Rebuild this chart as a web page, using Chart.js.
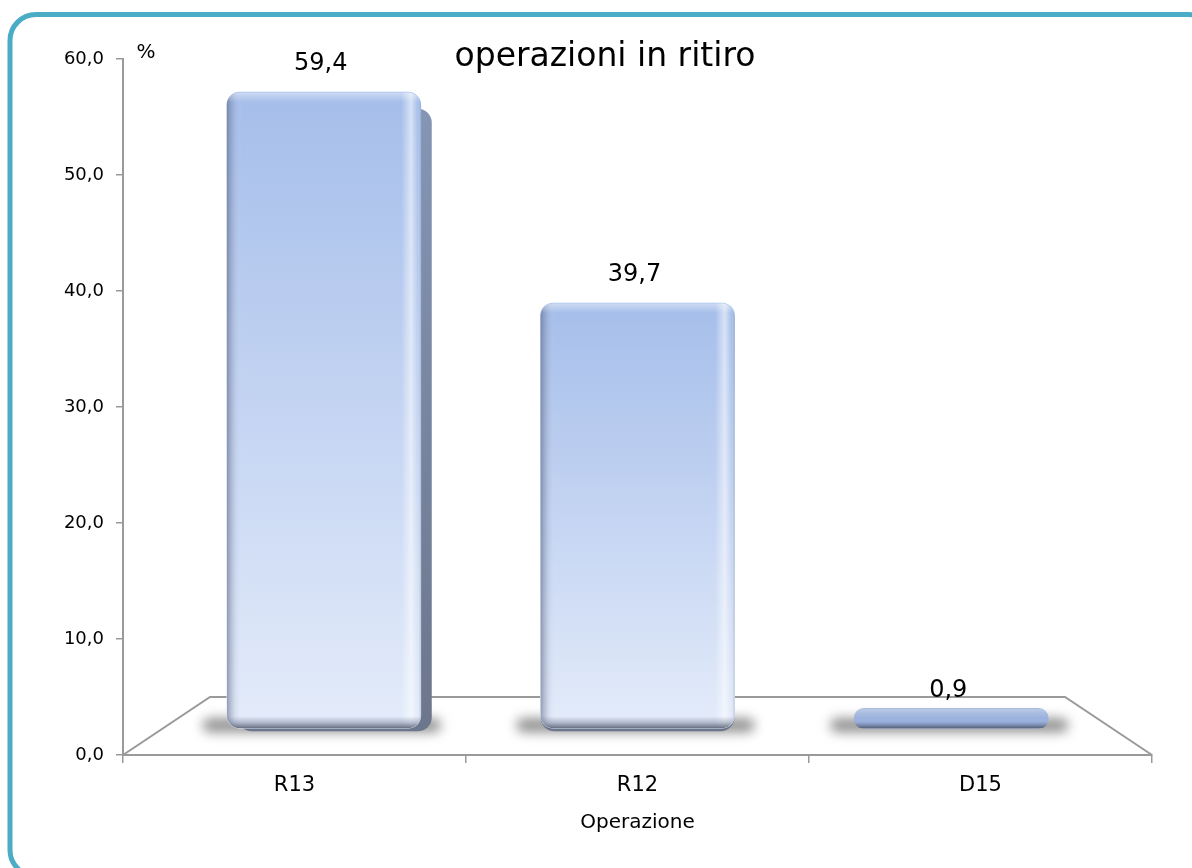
<!DOCTYPE html>
<html>
<head>
<meta charset="utf-8">
<title>operazioni in ritiro</title>
<script src="https://cdn.jsdelivr.net/npm/chart.js@4.4.1/dist/chart.umd.min.js"></script>
<style>
  html, body { margin: 0; padding: 0; background: #fff; }
  #wrap { width: 1192px; height: 868px; }
</style>
</head>
<body>
<div id="wrap"><canvas id="chart" width="1192" height="868"></canvas></div>
<script>
/* data */
const categories = ['R13', 'R12', 'D15'];
const values = [59.4, 39.7, 0.9];
const yTicks = [0, 10, 20, 30, 40, 50, 60];
const chartTitle = 'operazioni in ritiro';
const xTitle = 'Operazione';
const yUnit = '%';

const FONT = "'DejaVu Sans', sans-serif";
const AXIS_GREY = '#9a9a9a';
const fmt = v => v.toFixed(1).replace('.', ',');

// depth of the fake 3D floor (px)
const DEPTH_X = 87;
const DEPTH_Y = 58;

function barBox(el) {
  const w = el.width;
  return { left: el.x - w / 2, right: el.x + w / 2, top: el.y, bottom: el.base, w: w };
}

/* ------------------------------
   outer frame + white background
------------------------------ */
const framePlugin = {
  id: 'frame',
  beforeDraw(chart) {
    const ctx = chart.ctx;
    ctx.save();
    ctx.fillStyle = '#fff';
    ctx.fillRect(0, 0, chart.width, chart.height);
    ctx.strokeStyle = '#4bacc6';
    ctx.lineWidth = 5;
    ctx.beginPath();
    ctx.roundRect(10, 14.5, chart.width + 12, 861.5, 26);
    ctx.stroke();
    ctx.restore();
  }
};

/* ------------------------------
   floor, shadows, side faces
------------------------------ */
const floorPlugin = {
  id: 'floor',
  beforeDatasetsDraw(chart) {
    const ctx = chart.ctx;
    const a = chart.chartArea;
    ctx.save();
    ctx.strokeStyle = AXIS_GREY;
    ctx.lineWidth = 2;
    ctx.beginPath();
    ctx.moveTo(a.left, a.bottom);
    ctx.lineTo(a.left + DEPTH_X, a.bottom - DEPTH_Y);
    ctx.lineTo(a.right - DEPTH_X, a.bottom - DEPTH_Y);
    ctx.lineTo(a.right, a.bottom);
    ctx.stroke();

    const cx = (a.left + a.right) / 2;
    chart.getDatasetMeta(0).data.forEach(el => {
      const b = barBox(el);
      // soft shadow on the floor
      ctx.save();
      ctx.filter = 'blur(6px)';
      ctx.fillStyle = 'rgba(70,70,70,0.6)';
      ctx.beginPath();
      ctx.roundRect(b.left - 24, b.bottom - 10, b.w + 44, 14, 7);
      ctx.fill();
      ctx.restore();

      // side / bottom face (only for tall bars)
      if (b.bottom - b.top > 40) {
        const dx = -(el.x - cx) * 0.035;
        const g = ctx.createLinearGradient(0, b.top, 0, b.bottom);
        g.addColorStop(0, '#8596b6');
        g.addColorStop(1, '#6c768c');
        ctx.fillStyle = g;
        ctx.beginPath();
        ctx.roundRect(b.left + dx, b.top + Math.abs(dx) * 1.5, b.w, b.bottom - b.top - Math.abs(dx) * 1.5 + 3, 14);
        ctx.fill();
      }
    });
    ctx.restore();
  },

  afterDatasetsDraw(chart) {
    const ctx = chart.ctx;
    const yBar = chart.scales.yBar;
    ctx.save();
    chart.getDatasetMeta(0).data.forEach((el, i) => {
      const b = barBox(el);
      const tall = b.bottom - b.top > 40;
      // bevel highlights on the front face
      ctx.save();
      ctx.beginPath();
      ctx.roundRect(b.left, b.top, b.w, b.bottom - b.top, tall ? 13 : 8);
      ctx.clip();
      if (tall) {
        const h = ctx.createLinearGradient(b.left, 0, b.right, 0);
        h.addColorStop(0, 'rgba(80,90,115,0.55)');
        h.addColorStop(0.04, 'rgba(120,130,160,0.15)');
        h.addColorStop(0.08, 'rgba(255,255,255,0)');
        h.addColorStop(0.9, 'rgba(255,255,255,0)');
        h.addColorStop(0.95, 'rgba(255,255,255,0.55)');
        h.addColorStop(0.985, 'rgba(255,255,255,0)');
        h.addColorStop(1, 'rgba(110,120,145,0.4)');
        ctx.fillStyle = h;
        ctx.fillRect(b.left, b.top, b.w, b.bottom - b.top);
      }
      const rim = tall ? 12 : 6;
      const v = ctx.createLinearGradient(0, b.bottom - rim, 0, b.bottom);
      v.addColorStop(0, 'rgba(90,100,125,0)');
      v.addColorStop(0.5, 'rgba(90,100,125,0.35)');
      v.addColorStop(1, 'rgba(80,88,105,0.85)');
      ctx.fillStyle = v;
      ctx.fillRect(b.left, b.bottom - rim, b.w, rim);
      const t = ctx.createLinearGradient(0, b.top, 0, b.top + 10);
      t.addColorStop(0, 'rgba(255,255,255,0.45)');
      t.addColorStop(1, 'rgba(255,255,255,0)');
      ctx.fillStyle = t;
      ctx.fillRect(b.left, b.top, b.w, 10);
      ctx.restore();

      // value label
      ctx.fillStyle = '#000';
      ctx.font = '24px ' + FONT;
      ctx.textAlign = 'center';
      ctx.textBaseline = 'middle';
      ctx.fillText(fmt(values[i]), el.x - 3, yBar.getPixelForValue(values[i]) - 28);
    });
    ctx.restore();
  },

  afterDraw(chart) {
    const ctx = chart.ctx;
    const a = chart.chartArea;
    ctx.save();
    ctx.fillStyle = '#000';
    ctx.textBaseline = 'middle';
    ctx.textAlign = 'center';
    ctx.font = '33px ' + FONT;
    ctx.fillText(chartTitle, chart.width / 2 + 9, a.top - 2);
    ctx.font = '20px ' + FONT;
    ctx.fillText(yUnit, a.left + 23, a.top - 6);
    ctx.restore();
  }
};

/* ------------------------------
   chart
------------------------------ */
const barColor = (c) => {
  const chart = c.chart;
  const yBar = chart.scales.yBar;
  if (!yBar || !chart.chartArea) return '#b7cbf0';
  const v = values[c.dataIndex];
  const top = Math.min(yBar.getPixelForValue(v), yBar.getPixelForValue(0) - 20);
  const bottom = yBar.getPixelForValue(0);
  const g = chart.ctx.createLinearGradient(0, top, 0, bottom);
  if (bottom - top < 40) {
    g.addColorStop(0, '#8aa3d3');
    g.addColorStop(0.6, '#9db4e0');
    g.addColorStop(1, '#7f93bb');
  } else {
    g.addColorStop(0, '#a5beea');
    g.addColorStop(0.5, '#c4d4f2');
    g.addColorStop(1, '#e4ecfa');
  }
  return g;
};

new Chart(document.getElementById('chart'), {
  type: 'bar',
  data: {
    labels: categories,
    datasets: [{
      label: chartTitle,
      data: values.map((v, i) => ({ x: i, y: v })),
      xAxisID: 'xBar',
      yAxisID: 'yBar',
      backgroundColor: barColor,
      borderWidth: 0,
      borderRadius: 13,
      borderSkipped: false,
      barThickness: 194,
      minBarLength: 20
    }]
  },
  options: {
    responsive: false,
    animation: false,
    layout: { padding: { left: 0, right: 40, top: 59, bottom: 0 } },
    plugins: {
      legend: { display: false },
      tooltip: { enabled: false },
      title: { display: false }
    },
    scales: {
      x: {
        type: 'category',
        labels: categories,
        offset: true,
        border: { color: AXIS_GREY, width: 2 },
        grid: { offset: true, drawOnChartArea: false, color: AXIS_GREY, lineWidth: 1.5, tickLength: 8 },
        ticks: { color: '#000', font: { family: FONT, size: 21 }, padding: 10 },
        title: { display: true, text: xTitle, color: '#000', font: { family: FONT, size: 20 }, padding: { top: 4, bottom: 33 } },
        afterFit: s => { s.height = 113; }
      },
      y: {
        min: 0,
        max: 60,
        afterBuildTicks: s => { s.ticks = yTicks.map(v => ({ value: v })); },
        border: { color: AXIS_GREY, width: 2 },
        grid: { drawOnChartArea: false, color: AXIS_GREY, lineWidth: 1.5, tickLength: 7 },
        ticks: { color: '#000', font: { family: FONT, size: 18 }, padding: 12, callback: v => fmt(v) },
        afterFit: s => { s.width = 123; }
      },
      // bars stand mid-depth on the 3D floor, so they use their own hidden scales
      xBar: { type: 'linear', display: false, offset: false, min: -0.64, max: 2.64 },
      yBar: { type: 'linear', display: false, min: -2.5, max: 62.5 }
    }
  },
  plugins: [framePlugin, floorPlugin]
});
</script>
</body>
</html>
